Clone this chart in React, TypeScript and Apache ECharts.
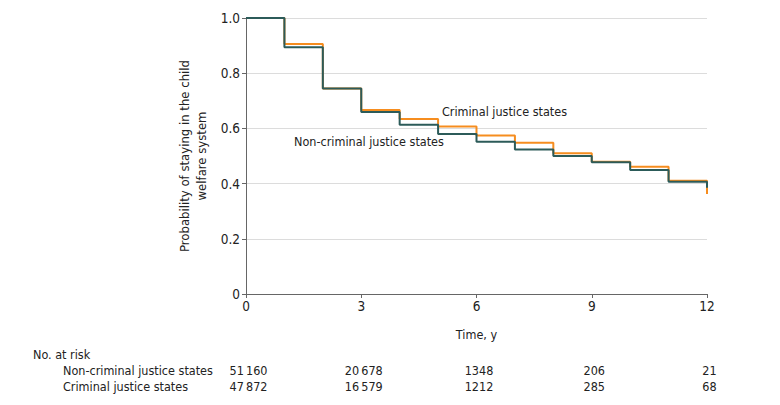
import React, { useEffect, useRef } from "react";
import * as echarts from "echarts";

const intervalStarts = [0, 1, 2, 3, 4, 5, 6, 7, 8, 9, 10, 11];
const endTime = 12;
const nonCriminal = [1.0, 0.894, 0.745, 0.659, 0.613, 0.58, 0.552, 0.524, 0.5, 0.477, 0.449, 0.407];
const nonCriminalEnd = 0.385;
const criminal = [1.0, 0.906, 0.745, 0.667, 0.634, 0.607, 0.574, 0.548, 0.51, 0.479, 0.461, 0.41];
const criminalEnd = 0.362;

const riskTimes = [0, 3, 6, 9, 12];
const riskNonCriminal = ["51\u2009160", "20\u2009678", "1348", "206", "21"];
const riskCriminal = ["47\u2009872", "16\u2009579", "1212", "285", "68"];

const FONT = '"Liberation Sans Narrow", "DejaVu Sans Condensed", sans-serif';
const FS = 12.5;
const ORANGE = "#f68d1f";
const TEAL = "#2c5b59";

function stepData(vals: number[], endVal: number) {
  const pts: number[][] = intervalStarts.map((t, i) => [t, vals[i]]);
  pts.push([endTime, vals[vals.length - 1]]);
  pts.push([endTime, endVal]);
  return pts;
}

export default function App() {
  const ref = useRef<HTMLDivElement>(null);
  useEffect(() => {
    if (!ref.current) return;
    const chart = echarts.init(ref.current, undefined, { renderer: "svg" });
    const textStyle = { fontFamily: FONT, fontSize: FS, color: "#222" };
    const tickStyle = { fontFamily: FONT, fontSize: 13.5, color: "#222" };
    chart.setOption({
      animation: false,
      textStyle: { fontFamily: FONT },
      grid: { left: 246, right: 73, top: 18, bottom: 111 },
      xAxis: {
        type: "value",
        min: 0,
        max: 12,
        interval: 3,
        name: "Time, y",
        nameLocation: "middle",
        nameGap: 34,
        nameTextStyle: textStyle,
        axisLine: { lineStyle: { color: "#666", width: 1 } },
        axisTick: { show: true, length: 4, lineStyle: { color: "#666" } },
        axisLabel: { ...tickStyle, margin: 5 },
        splitLine: { show: false },
      },
      yAxis: {
        type: "value",
        min: 0,
        max: 1,
        interval: 0.2,
        name: "Probability of staying in the child\nwelfare system",
        nameLocation: "middle",
        nameRotate: 90,
        nameGap: 31,
        nameTextStyle: { ...textStyle, fontSize: 13, lineHeight: 17 },
        axisLine: { show: true, lineStyle: { color: "#666", width: 1 } },
        axisTick: { show: true, length: 4, lineStyle: { color: "#666" } },
        axisLabel: {
          ...tickStyle,
          margin: 6,
          formatter: (v: number) => (v === 0 ? "0" : v.toFixed(1)),
        },
        splitLine: { show: true, lineStyle: { color: "#dcdcdc", width: 1 } },
      },
      series: [
        {
          name: "Criminal justice states",
          type: "line",
          step: "end",
          symbol: "none",
          data: stepData(criminal, criminalEnd),
          lineStyle: { color: ORANGE, width: 2 },
          z: 2,
        },
        {
          name: "Non-criminal justice states",
          type: "line",
          step: "end",
          symbol: "none",
          data: stepData(nonCriminal, nonCriminalEnd),
          lineStyle: { color: TEAL, width: 2 },
          z: 3,
        },
      ],
    });

    const px = (t: number, v: number) => chart.convertToPixel({ gridIndex: 0 }, [t, v]) as number[];
    const labelCJ = px(5.1, 0.66);
    const labelNCJ = px(1.25, 0.551);
    const font = `${FS}px ${FONT}`;
    const graphics: any[] = [
      {
        type: "text",
        x: labelCJ[0],
        y: labelCJ[1],
        style: { text: "Criminal justice states", font, fill: "#222", textVerticalAlign: "middle" },
      },
      {
        type: "text",
        x: labelNCJ[0],
        y: labelNCJ[1],
        style: { text: "Non-criminal justice states", font, fill: "#222", textVerticalAlign: "middle" },
      },
      {
        type: "text",
        x: 33,
        y: 354,
        style: { text: "No. at risk", font, fill: "#222", textVerticalAlign: "middle" },
      },
      {
        type: "text",
        x: 63,
        y: 370,
        style: { text: "Non-criminal justice states", font, fill: "#222", textVerticalAlign: "middle" },
      },
      {
        type: "text",
        x: 63,
        y: 386,
        style: { text: "Criminal justice states", font, fill: "#222", textVerticalAlign: "middle" },
      },
    ];
    riskTimes.forEach((t, i) => {
      const x = (chart.convertToPixel({ xAxisIndex: 0 }, t) as number) + 2.5;
      graphics.push({
        type: "text",
        x,
        y: 370,
        style: { text: riskNonCriminal[i], font, fill: "#222", textAlign: "center", textVerticalAlign: "middle" },
      });
      graphics.push({
        type: "text",
        x,
        y: 386,
        style: { text: riskCriminal[i], font, fill: "#222", textAlign: "center", textVerticalAlign: "middle" },
      });
    });
    chart.setOption({ graphic: graphics });
    return () => chart.dispose();
  }, []);
  return <div ref={ref} style={{ position: "absolute", left: 0, top: 0, width: 780, height: 405 }} />;
}
